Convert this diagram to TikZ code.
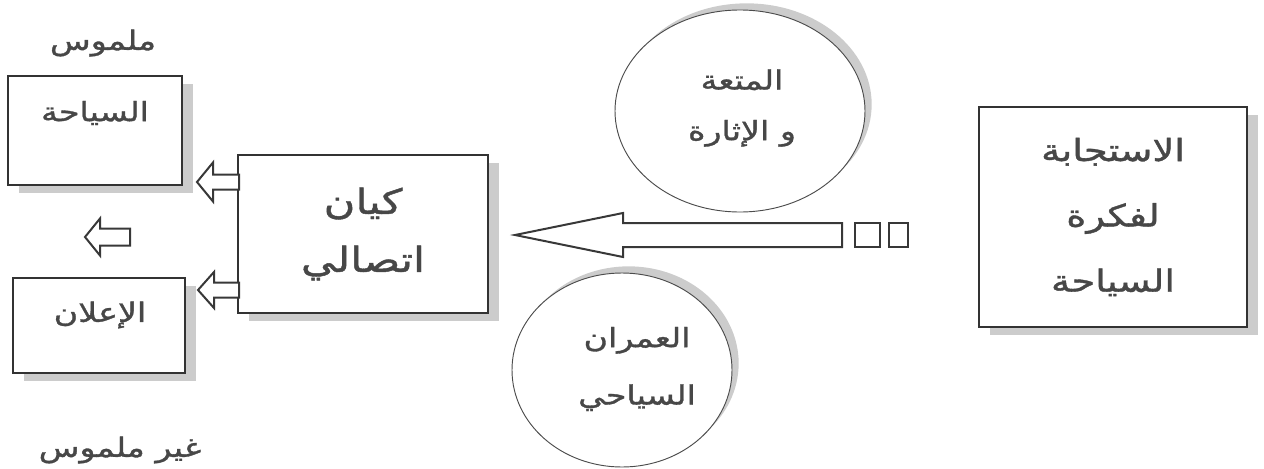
\documentclass[tikz,border=0pt]{standalone}
\usepackage{fontspec}
\usetikzlibrary{shapes.geometric,shadows}
\newfontfamily\arabicfont[Script=Arabic,FakeStretch=1.25,FakeBold=1.2]{DejaVu Sans}
\TeXXeTstate=1
\newcommand\artext[1]{\beginR #1\endR}
% left pointing block arrow: tip, length, head length, shaft half, head half
\newcommand\blockleft[5]{%
  \draw[barrow] (#1) -- ++(#3,-#5) -- ++(0,#5-#4) -- ++(#2-#3,0)
    -- ++(0,2*#4) -- ++(#3-#2,0) -- ++(0,#5-#4) -- cycle;}
\tikzset{
  txt/.style={font=\arabicfont\fontsize{20}{38}\selectfont, text=black!72, inner sep=0pt, align=center},
  midtxt/.style={txt, font=\arabicfont\fontsize{20}{43}\selectfont},
  bigtxt/.style={txt, font=\arabicfont\fontsize{26}{43.5}\selectfont},
  resptxt/.style={txt, font=\arabicfont\fontsize{23}{49}\selectfont},
  sbox/.style={draw=black!80, line width=1.2pt, fill=white, inner sep=0pt,
    general shadow={fill=gray!40, shadow xshift=8pt, shadow yshift=-6pt}},
  sell/.style={ellipse, draw=black!70, line width=.7pt, fill=white, inner sep=0pt,
    general shadow={fill=gray!40, shadow xshift=5pt, shadow yshift=5pt}},
  barrow/.style={draw=black!78, line width=1.5pt, fill=white, line join=miter},
}
\begin{document}
\begin{tikzpicture}[x=.75pt,y=-.75pt]
  \useasboundingbox (0,0) rectangle (1264,468);
  % left column
  \node[txt] (tang) at (103,43) {\artext{ملموس}};
  \node[sbox, minimum width=130.5pt, minimum height=81.75pt] (tour) at (95,130.5) {};
  \node[txt] (tourt) at (95,113) {\artext{السياحة}};
  \node[sbox, minimum width=129pt, minimum height=71.25pt] (adv) at (99,325.5) {};
  \node[txt] (advt) at (100,315) {\artext{الإعلان}};
  \node[txt] (intang) at (120,450) {\artext{غير ملموس}};
  % middle
  \node[sbox, minimum width=187.5pt, minimum height=118.5pt, bigtxt] (comm) at (363,234)
    {\artext{كيان}\\\artext{اتصالي}};
  \node[sell, minimum width=187.5pt, minimum height=151.5pt] (fun) at (740,111) {};
  \node[txt] (funt) at (742,108) {\artext{المتعة}\\\artext{و الإثارة}};
  \node[sell, minimum width=165pt, minimum height=145.5pt] (urban) at (622,370) {};
  \node[midtxt] (urbant) at (637,369) {\artext{العمران}\\\artext{السياحي}};
  % right
  \node[sbox, minimum width=201pt, minimum height=165pt, resptxt] (resp) at (1113,217)
    {\artext{الاستجابة}\\\artext{لفكرة}\\\artext{السياحة}};
  % arrows
  \coordinate (a1) at (197,182);
  \coordinate (a2) at (198,290);
  \coordinate (a3) at (85,237);
  \coordinate (a4) at (515,235);
  \blockleft{a1}{42}{16}{7.5}{19.5}
  \blockleft{a2}{41}{16}{7.5}{18}
  \blockleft{a3}{45}{15}{8.5}{18.5}
  \blockleft{a4}{327}{108}{12}{22}
  \draw[barrow, line width=1.8pt] (855,223) rectangle (880,247);
  \draw[barrow, line width=1.8pt] (889,223) rectangle (908,247);
\end{tikzpicture}
\end{document}
